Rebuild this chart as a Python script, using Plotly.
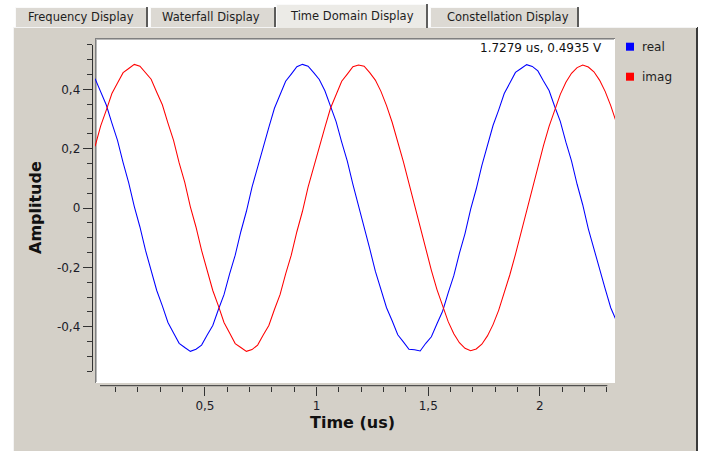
import plotly.graph_objects as go

# ---------------- data ----------------
T0 = 0.008      # first sample time (us)
DT = 0.0251     # sample spacing (us)

real_vals = [
    0.436, 0.391, 0.347, 0.286, 0.228, 0.153, 0.085, 0.005, -0.064, -0.143,
    -0.207, -0.278, -0.330, -0.386, -0.421, -0.456, -0.470, -0.483, -0.476, -0.462,
    -0.428, -0.396, -0.342, -0.292, -0.222, -0.159, -0.080, -0.011, 0.070, 0.137,
    0.213, 0.272, 0.336, 0.380, 0.427, 0.451, 0.476, 0.484, 0.478, 0.456,
    0.433, 0.395, 0.342, 0.291, 0.222, 0.158, 0.080, 0.010, -0.069, -0.137,
    -0.213, -0.272, -0.336, -0.380, -0.427, -0.451, -0.476, -0.478, -0.482, -0.456,
    -0.434, -0.390, -0.348, -0.286, -0.228, -0.153, -0.086, -0.005, 0.064, 0.143,
    0.207, 0.278, 0.330, 0.386, 0.421, 0.457, 0.470, 0.483, 0.477, 0.462,
    0.428, 0.396, 0.342, 0.292, 0.222, 0.159, 0.080, 0.011, -0.070, -0.137,
    -0.213, -0.272, -0.336, -0.380,
]
imag_vals = [
    0.208, 0.277, 0.330, 0.386, 0.421, 0.456, 0.470, 0.484, 0.478, 0.455,
    0.434, 0.390, 0.348, 0.286, 0.228, 0.152, 0.086, 0.004, -0.064, -0.143,
    -0.207, -0.278, -0.330, -0.386, -0.421, -0.457, -0.470, -0.483, -0.477, -0.462,
    -0.428, -0.396, -0.342, -0.292, -0.222, -0.159, -0.080, -0.011, 0.070, 0.137,
    0.213, 0.272, 0.336, 0.380, 0.427, 0.451, 0.476, 0.482, 0.478, 0.456,
    0.431, 0.393, 0.345, 0.289, 0.225, 0.156, 0.083, 0.008, -0.067, -0.140,
    -0.210, -0.275, -0.333, -0.383, -0.424, -0.454, -0.473, -0.481, -0.475, -0.459,
    -0.431, -0.393, -0.345, -0.289, -0.225, -0.156, -0.083, -0.008, 0.067, 0.140,
    0.210, 0.275, 0.333, 0.383, 0.424, 0.454, 0.473, 0.482, 0.475, 0.459,
    0.431, 0.393, 0.345, 0.289,
]
time_us = [round(T0 + i * DT, 4) for i in range(len(real_vals))]

series_names = ["real", "imag"]
series_colors = ["#0000ff", "#ff0000"]

y_major = [-0.4, -0.2, 0, 0.2, 0.4]
y_major_text = ["-0,4", "-0,2", "0", "0,2", "0,4"]
y_minor = [-0.55, -0.5, -0.45, -0.35, -0.3, -0.25, -0.15, -0.1, -0.05,
           0.05, 0.1, 0.15, 0.25, 0.3, 0.35, 0.45, 0.5, 0.55]
x_major = [0.5, 1, 1.5, 2]
x_major_text = ["0,5", "1", "1,5", "2"]
x_minor = [0.1, 0.2, 0.3, 0.4, 0.6, 0.7, 0.8, 0.9, 1.1, 1.2, 1.3, 1.4,
           1.6, 1.7, 1.8, 1.9, 2.1, 2.2, 2.3]

tab_labels = ["Frequency Display", "Waterfall Display",
              "Time Domain Display", "Constellation Display"]
selected_tab = 2
cursor_text = "1.7279 us, 0.4935 V"
x_title = "Time (us)"
y_title = "Amplitude"

# ---------------- layout helpers ----------------
W, H = 715, 451
FONT = "DejaVu Sans"
PANEL = "#d4d0c8"


def px(x):
    return x / W


def py(y):
    return 1 - y / H


shapes = []


def rect(x0, y0, x1, y1, fill):
    shapes.append(dict(type="rect", xref="paper", yref="paper",
                       x0=px(x0), x1=px(x1), y0=py(y1), y1=py(y0),
                       fillcolor=fill, line=dict(width=0), layer="below"))


def seg(x0, y0, x1, y1, color, width=1):
    shapes.append(dict(type="line", xref="paper", yref="paper",
                       x0=px(x0), x1=px(x1), y0=py(y0), y1=py(y1),
                       line=dict(color=color, width=width), layer="below"))


PANEL_TOP = 27

# panel
rect(13, PANEL_TOP, 697, 451, PANEL)
seg(13.5, PANEL_TOP, 13.5, 451, "#f4f4f4")
seg(697, PANEL_TOP, 697, 451, "#3a3a3a", 2)
seg(13, PANEL_TOP + 0.5, 697, PANEL_TOP + 0.5, "#f4f4f4")

# tabs
tab_geom = [(15, 148), (150, 276), (276, 428), (430, 579)]
tab_centers = [81, 211, 352, 508]
annotations = []
for i, (lab, (a, b)) in enumerate(zip(tab_labels, tab_geom)):
    if i == selected_tab:
        top, bot, fill, ty = 4, PANEL_TOP + 1, "#ecebe7", 15.5
    else:
        top, bot, fill, ty = 7, PANEL_TOP, "#dcd9d3", 16.5
    rect(a, top, b, bot, fill)
    seg(a + 0.5, top, a + 0.5, bot, "#fafafa")
    seg(a, top + 0.5, b, top + 0.5, "#fafafa")
    seg(b - 1, top, b - 1, bot, "#3c3c3c", 1.6)
    annotations.append(dict(text=lab, xref="paper", yref="paper",
                            x=px(tab_centers[i]), y=py(ty), showarrow=False,
                            xanchor="center", yanchor="middle",
                            font=dict(family=FONT, size=11.5, color="#1e1e1e")))

# plot canvas (sunken frame)
rect(95, 38, 615, 383, "#ffffff")
seg(95, 38.5, 615, 38.5, "#808080")
seg(95.5, 38, 95.5, 383, "#808080")
seg(96, 39.5, 614, 39.5, "#b8b8b8")
seg(96.5, 39, 96.5, 382, "#b8b8b8")

# x-axis backbone (Qwt style, shorter than canvas)
seg(100, 385.7, 607.3, 385.7, "#333333")

# legend (squares + labels)
for i, (name, col) in enumerate(zip(series_names, series_colors)):
    yc = 46.7 + 30 * i
    rect(626, yc - 4, 634, yc + 4, col)
    annotations.append(dict(text=name, xref="paper", yref="paper",
                            x=px(640), y=py(yc), showarrow=False,
                            xanchor="left", yanchor="middle",
                            font=dict(family=FONT, size=12, color="#1e1e1e")))

# cursor readout
annotations.append(dict(text=cursor_text, xref="paper", yref="paper",
                        x=px(604), y=py(48), showarrow=False,
                        xanchor="right", yanchor="middle",
                        font=dict(family=FONT, size=12, color="#111111")))
# axis titles
annotations.append(dict(text=f"<b>{y_title}</b>", xref="paper", yref="paper",
                        x=px(35), y=py(208), showarrow=False, textangle=-90,
                        xanchor="center", yanchor="middle",
                        font=dict(family=FONT, size=16, color="#111111")))
annotations.append(dict(text=f"<b>{x_title}</b>", xref="paper", yref="paper",
                        x=px(352), y=py(422.5), showarrow=False,
                        xanchor="center", yanchor="middle",
                        font=dict(family=FONT, size=16, color="#111111")))

# ---------------- figure ----------------
fig = go.Figure()
for name, col, vals in zip(series_names, series_colors, [real_vals, imag_vals]):
    fig.add_trace(go.Scatter(x=time_us, y=vals, mode="lines", name=name,
                             line=dict(color=col, width=1.05),
                             showlegend=False, hoverinfo="skip"))

tick_font = dict(family=FONT, size=12, color="#1c1c28")
fig.update_layout(
    width=W, height=H,
    margin=dict(l=0, r=0, t=0, b=0),
    paper_bgcolor="#ffffff",
    plot_bgcolor="rgba(0,0,0,0)",
    showlegend=False,
    shapes=shapes,
    annotations=annotations,
    xaxis=dict(
        domain=[px(95), px(615)], range=[0.0076, 2.3363],
        anchor="free", position=py(385.7),
        showline=False, showgrid=False, zeroline=False,
        ticks="outside", ticklen=9, tickwidth=1, tickcolor="#333333",
        tickmode="array", tickvals=x_major, ticktext=x_major_text,
        tickfont=tick_font, automargin=False,
        minor=dict(tickmode="array", tickvals=x_minor, ticks="outside",
                   ticklen=5, tickwidth=1, tickcolor="#333333", showgrid=False),
    ),
    yaxis=dict(
        domain=[py(371.2), py(44.8)], range=[-0.55, 0.55],
        anchor="free", position=px(91.7),
        showline=True, linecolor="#333333", linewidth=1,
        showgrid=False, zeroline=False,
        ticks="outside", ticklen=9, tickwidth=1, tickcolor="#333333",
        tickmode="array", tickvals=y_major, ticktext=y_major_text,
        tickfont=tick_font, automargin=False,
        minor=dict(tickmode="array", tickvals=y_minor, ticks="outside",
                   ticklen=5, tickwidth=1, tickcolor="#333333", showgrid=False),
    ),
)

fig.write_html("out.html",
               config={"displayModeBar": False, "staticPlot": True},
               post_script="document.body.style.margin='0';"
                           "document.body.style.padding='0';")
